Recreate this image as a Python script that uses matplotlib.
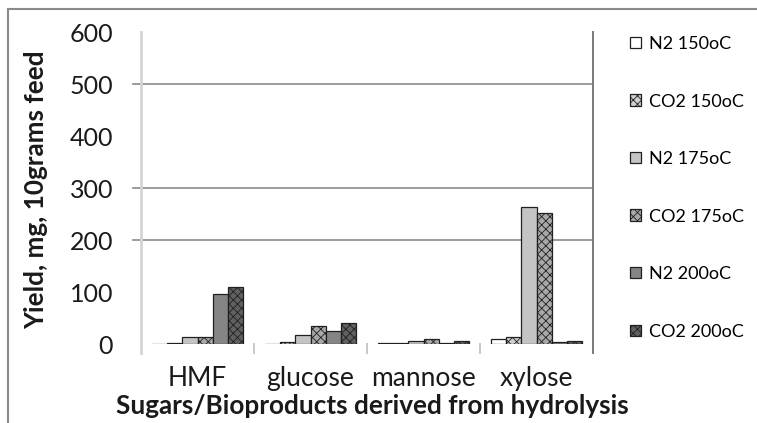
import numpy as np
import matplotlib.pyplot as plt
from matplotlib.lines import Line2D
from matplotlib.transforms import blended_transform_factory

plt.rcParams['font.family'] = ['Lato', 'DejaVu Sans']
plt.rcParams['hatch.linewidth'] = 0.6

# data
categories = ['HMF', 'glucose', 'mannose', 'xylose']
series = ['N2 150oC', 'CO2 150oC', 'N2 175oC', 'CO2 175oC', 'N2 200oC', 'CO2 200oC']
n2_150 = [0, 0, 1, 10]
co2_150 = [1.5, 4.5, 1, 13]
n2_175 = [13, 18, 5, 264]
co2_175 = [13, 35, 10, 251]
n2_200 = [97, 25, 1, 4]
co2_200 = [110, 41, 5, 5]
values = [n2_150, co2_150, n2_175, co2_175, n2_200, co2_200]

# bar styles
faces = ['white', '#d0d0d0', '#c4c4c4', '#a8a8a8', '#858585', '#606060']
hatches = [None, 'xxxx', None, 'xxxx', None, 'xxxx']

fig = plt.figure(figsize=(7.57, 4.23), dpi=100)
ax = fig.add_axes([141/757, 1 - 344/423, (593 - 141)/757, (344 - 32)/423])

x = np.arange(len(categories))
w = 0.8 / len(series)
handles = []
for i, (vals, fc, h) in enumerate(zip(values, faces, hatches)):
    pos = x - 0.4 + w * (i + 0.5)
    bc = ax.bar(pos, vals, width=w, color=fc, edgecolor='#202020', linewidth=0.9,
                hatch=h, zorder=3)
    handles.append(bc)

ax.set_xlim(-0.5, len(categories) - 0.5)
ax.set_ylim(0, 600)
ax.set_yticks(range(0, 601, 100))
ax.set_xticks(x)
ax.set_xticklabels(categories)
ax.tick_params(axis='y', length=0, labelsize=18, colors='#1a1a1a', pad=20)
ax.tick_params(axis='x', length=0, labelsize=19, colors='#1a1a1a', pad=16)
for s in ax.spines.values():
    s.set_visible(False)

# grid lines (only these show in the original)
tr = blended_transform_factory(ax.transAxes, ax.transData)
for gy in [200, 300, 500]:
    ax.plot([-8/452, 1], [gy, gy], transform=tr, color='#8a8a8a', lw=1.2,
            clip_on=False, zorder=1)

# axis lines and category separators
ext = -9/312
ax.plot([0, 0], [ext, 1], transform=ax.transAxes, color='#d4d4d4', lw=2,
        clip_on=False, zorder=2)
ax.plot([1, 1], [ext, 1], transform=ax.transAxes, color='#7a7a7a', lw=1.4,
        clip_on=False, zorder=2)
trx = blended_transform_factory(ax.transData, ax.transAxes)
for b in x[:-1] + 0.5:
    ax.plot([b, b], [ext, 0], transform=trx, color='#c8c8c8', lw=1.4,
            clip_on=False)

fig.text(36/757, 1 - 190/423, 'Yield, mg, 10grams feed', rotation=90,
         ha='center', va='center', fontsize=18.8, fontweight='bold', color='#1a1a1a')
fig.text(372/757, 1 - 406/423, 'Sugars/Bioproducts derived from hydrolysis',
         ha='center', va='center', fontsize=18.8, fontweight='bold', color='#1a1a1a')

fig.legend(handles, series, loc='upper left', bbox_to_anchor=(630/757, 1 - 36/423),
           frameon=False, fontsize=13, handlelength=0.6, handleheight=0.6,
           handletextpad=0.45, labelspacing=2.3, borderpad=0, borderaxespad=0)

# outer frame (top and left edges visible)
fig.add_artist(Line2D([8/757, 1], [1 - 9/423, 1 - 9/423], color='#8a8a8a', lw=1.5))
fig.add_artist(Line2D([8/757, 8/757], [0, 1 - 9/423], color='#8a8a8a', lw=1.5))

fig.savefig('out.png', dpi=100)
